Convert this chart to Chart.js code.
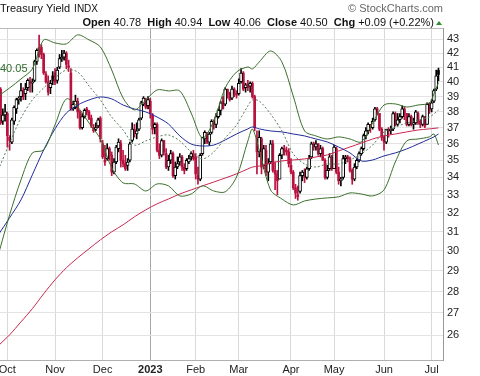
<!DOCTYPE html>
<html>
<head>
<meta charset="utf-8">
<script src="https://cdn.jsdelivr.net/npm/chart.js@4.4.0/dist/chart.umd.min.js"></script>
<style>
  html, body { margin: 0; padding: 0; background: #fff; }
  #wrap { width: 480px; height: 376px; }
</style>
</head>
<body>
<div id="wrap"><canvas id="yieldChart" width="480" height="376"></canvas></div>
<script>
// Eixo X: pregões (índice do dia), rótulos de mês
const monthIdx = [4, 25, 46, 67, 87, 106, 129, 148, 170, 191];
const monthLabels = ['Oct', 'Nov', 'Dec', '2023', 'Feb', 'Mar', 'Apr', 'May', 'Jun', 'Jul'];
const yTicks = [26, 27, 28, 29, 30, 31, 32, 33, 34, 35, 36, 37, 38, 39, 40, 41, 42, 43];

// Candles diários (27 set 2022 - 7 jul 2023)
const opens = [39.3,39.5,37.4,37.8,37.9,36.4,36.1,37.4,38.2,38.8,39.0,39.4,39.2,39.6,40.0,39.9,40.1,41.4,42.4,42.4,
  41.9,40.5,40.0,39.6,40.4,40.6,40.1,41.0,41.6,41.7,42.0,41.1,40.6,38.2,38.3,38.7,38.0,37.0,37.7,38.2,
  38.0,37.6,37.0,36.9,37.1,37.6,36.0,35.0,35.1,35.7,35.3,34.3,34.9,35.7,36.0,35.0,34.8,34.7,35.0,36.2,
  36.9,36.6,36.9,37.6,38.5,38.8,38.4,38.7,37.8,37.0,37.2,35.6,35.3,36.2,35.4,34.6,35.0,35.4,34.1,34.6,
  34.9,35.2,34.6,34.5,34.9,35.2,35.4,35.2,34.1,33.9,35.4,36.3,36.6,36.1,36.7,37.4,37.2,37.7,38.1,38.7,
  38.5,39.5,39.2,38.9,39.5,39.2,39.2,40.0,40.6,39.6,39.8,39.7,39.9,39.0,36.3,35.5,36.3,34.7,35.6,34.3,
  34.9,36.0,34.4,34.2,33.9,35.3,35.7,35.6,35.5,34.7,34.3,33.4,33.0,33.2,34.1,34.3,34.0,34.5,35.2,36.0,
  35.8,36.0,35.4,35.7,35.0,34.0,34.5,35.2,34.5,35.7,34.3,33.8,34.0,35.1,35.2,35.1,34.4,33.9,34.6,35.0,
  35.4,35.7,36.5,36.8,37.2,37.0,37.5,38.2,37.9,36.9,36.4,36.1,36.9,36.8,36.9,37.9,37.2,37.5,37.7,38.2,
  37.9,37.2,37.7,37.2,37.3,37.9,37.4,37.2,37.7,37.2,38.5,38.2,38.7,39.5,40.78];
const highs = [39.9,39.6,38.2,38.5,38.0,36.5,37.6,38.4,38.9,39.0,39.9,39.6,39.9,40.2,40.3,40.2,41.5,42.3,43.3,42.6,
  42.0,40.7,40.4,40.1,40.7,40.9,41.0,41.9,42.2,42.2,42.1,41.5,40.9,38.7,39.1,38.9,38.1,37.9,38.2,38.3,
  38.1,37.8,37.2,37.3,37.6,37.7,36.2,35.9,36.0,35.8,35.5,35.1,35.9,36.3,36.2,35.6,35.3,35.1,36.1,37.3,
  37.2,37.3,37.6,38.7,39.0,38.9,39.0,38.9,37.9,37.3,37.3,36.0,36.3,36.2,35.7,35.3,35.6,35.5,34.9,35.2,
  35.4,35.3,34.8,35.1,35.3,35.5,35.6,35.4,34.6,35.4,36.4,36.8,36.7,36.7,37.5,37.5,37.9,38.2,38.7,39.0,
  39.6,39.5,39.3,39.7,39.6,39.4,40.2,40.9,40.7,39.9,40.1,40.0,40.0,39.1,36.8,36.8,36.4,35.9,35.9,35.1,
  36.2,36.2,34.9,34.4,35.4,35.8,35.9,35.8,35.7,35.1,34.4,33.6,33.5,34.3,34.4,34.5,34.6,35.3,36.1,36.1,
  36.2,36.0,35.9,35.8,35.1,34.7,35.4,35.3,35.9,35.8,34.6,34.0,35.3,35.3,35.3,35.2,34.5,34.8,35.1,35.5,
  35.8,36.6,37.0,37.3,37.2,37.6,38.3,38.3,37.9,37.0,36.5,36.9,37.0,37.1,38.0,38.0,37.9,37.9,38.4,38.3,
  37.9,37.9,37.8,37.6,38.1,38.0,37.5,37.8,37.7,38.6,38.6,38.8,39.5,40.8,40.94];
const lows = [38.9,37.2,37.2,37.4,35.8,35.6,36.0,37.2,37.9,38.5,38.7,38.8,38.8,39.4,39.3,39.3,40.0,41.2,41.7,41.6,
  40.5,39.9,39.1,39.2,39.8,39.8,39.9,40.9,41.4,41.5,40.9,40.7,38.1,38.1,38.2,37.6,36.9,36.9,37.6,37.8,
  37.5,37.0,36.7,36.8,37.0,36.1,35.1,34.7,35.0,35.0,34.1,34.2,34.8,35.5,34.6,34.6,34.4,34.4,34.9,36.1,
  36.4,36.3,36.8,37.5,38.4,38.2,38.2,37.6,36.6,36.6,35.5,35.1,35.2,35.3,34.5,34.4,34.8,34.0,33.9,34.5,
  34.7,34.4,34.2,34.4,34.8,35.0,35.0,33.9,33.6,33.8,35.3,36.0,36.0,35.9,36.6,36.9,37.0,37.6,37.8,38.2,
  38.4,38.9,38.7,38.8,39.0,38.9,39.1,39.9,39.4,39.3,39.4,39.3,38.9,36.8,34.2,35.2,34.2,34.5,34.1,33.8,
  34.8,34.3,33.3,33.0,33.9,35.1,35.3,35.3,34.6,34.2,33.3,32.8,32.7,33.1,33.8,33.7,33.9,34.4,35.1,35.6,
  35.6,35.3,35.2,35.0,33.9,33.9,34.4,34.4,34.5,34.2,33.6,33.5,33.9,34.8,34.9,34.3,33.6,33.8,34.5,34.9,
  35.3,35.6,36.3,36.6,36.7,36.9,37.4,37.8,36.8,36.2,35.6,36.0,36.4,36.6,36.8,37.1,37.1,37.3,37.6,37.5,
  37.1,37.1,37.1,36.9,37.2,37.2,37.0,37.1,37.0,37.2,37.9,38.0,38.6,39.4,40.06];
const closes = [39.6,37.3,37.8,38.0,36.5,36.2,37.5,38.3,38.8,38.9,39.4,39.0,39.5,40.1,39.9,40.0,41.4,42.2,42.1,41.9,
  40.6,40.0,39.3,39.9,40.1,40.0,40.8,41.6,41.7,42.0,41.2,41.0,38.2,38.5,38.7,38.0,37.0,37.7,38.1,38.0,
  37.6,37.1,36.8,37.0,37.5,36.3,35.2,34.9,35.7,35.3,34.3,34.9,35.8,36.1,35.0,34.8,34.5,34.9,36.0,36.9,
  36.7,36.8,37.5,38.6,38.9,38.3,38.8,37.9,36.9,37.2,35.6,35.3,36.2,35.5,34.6,35.0,35.4,34.1,34.6,34.8,
  35.2,34.6,34.4,35.0,35.1,35.4,35.1,34.2,33.9,35.3,36.4,36.7,36.1,36.6,37.4,37.2,37.7,38.1,38.6,38.2,
  39.5,39.2,38.8,39.5,39.2,39.1,39.9,40.6,39.5,39.8,39.6,39.9,39.0,37.0,35.5,36.4,34.6,35.7,34.3,34.8,
  36.0,34.4,34.2,33.8,35.3,35.7,35.6,35.5,34.8,34.3,33.4,33.1,32.9,34.1,34.3,34.0,34.5,35.1,36.0,35.8,
  36.0,35.4,35.7,35.0,34.0,34.4,35.2,34.5,35.8,34.3,33.8,33.9,35.1,35.2,35.1,34.4,33.9,34.6,35.0,35.4,
  35.7,36.5,36.8,37.2,37.0,37.4,38.2,38.0,36.9,36.4,36.1,36.9,36.8,36.9,37.9,37.2,37.5,37.7,38.2,37.9,
  37.2,37.7,37.2,37.3,38.0,37.4,37.2,37.7,37.1,38.5,38.1,38.6,39.4,40.41,40.50];

// Indicadores (amostras por índice de dia)
const lineIdx = [0,5,10,15,20,25,30,35,40,45,50,55,60,65,70,75,80,85,90,95,100,105,110,112,115,120,
  125,130,135,140,145,150,155,160,165,170,175,180,185,190,192,194];
const bbUpper = [39.04,39.58,40.19,40.88,42.95,42.73,42.66,43.32,42.95,42.44,40.81,38.91,38.13,38.78,39.45,
  39.38,39.38,37.93,36.35,37.42,39.58,40.67,41.02,40.88,41.37,42.15,41.37,39.04,36.79,36.48,36.29,36.42,
  36.29,36.11,37.29,38.45,38.52,38.32,38.45,38.58,39.17,39.94];
const bbLower = [29.80,31.90,33.85,35.44,35.62,37.17,38.85,38.32,37.29,36.29,34.55,33.68,33.62,33.22,33.62,
  33.51,32.94,33.05,33.51,33.22,33.17,34.02,36.17,36.91,35.62,33.28,32.77,32.44,32.66,32.77,32.83,32.89,
  33.11,33.05,32.94,33.28,34.90,36.17,36.29,36.42,36.60,35.92];
const sma20 = [34.43,36.04,37.61,38.78,39.58,40.26,40.81,40.67,39.71,38.78,37.67,36.85,35.92,36.17,36.42,
  36.54,36.17,35.50,35.08,35.50,36.35,37.17,38.39,38.78,38.71,37.87,36.79,35.38,34.78,34.60,34.78,34.78,
  35.02,35.38,35.92,36.73,37.04,37.29,37.48,37.67,37.87,38.13];
const sma50 = [30.83,31.74,32.72,34.14,35.62,36.92,37.93,38.45,38.78,38.98,38.85,38.45,38.19,38.00,37.67,
  37.23,36.48,35.98,35.86,35.92,36.23,36.60,36.92,37.04,36.92,36.79,36.73,36.60,36.48,36.29,36.11,35.80,
  35.44,34.96,35.02,35.26,35.44,35.68,35.98,36.29,36.42,36.60];
const sma200 = [25.53,26.01,26.59,27.19,27.89,28.56,29.15,29.65,30.11,30.57,30.99,31.36,31.79,32.17,32.50,
  32.77,33.05,33.28,33.51,33.73,33.96,34.20,34.49,34.60,34.66,34.84,34.96,35.02,35.08,35.20,35.32,35.56,
  35.80,36.04,36.29,36.48,36.60,36.73,36.85,36.92,36.95,36.98];

const FONT = '"Liberation Sans", Arial, sans-serif';
const RED = '#b8123f';

function candleColor(i) {
  return i > 0 && closes[i] < closes[i - 1] ? RED : '#000';
}
function isHollow(i) {
  return closes[i] > opens[i];
}
function linePoints(vals) {
  return lineIdx.map((d, k) => ({ x: d, y: vals[k] }));
}

// Cabeçalho, rótulo 40.05 e borda superior
const headerPlugin = {
  id: 'header',
  afterDraw(chart) {
    const ctx = chart.ctx;
    const area = chart.chartArea;
    ctx.save();
    ctx.textBaseline = 'alphabetic';
    ctx.fillStyle = '#111';
    ctx.font = '11px ' + FONT;
    ctx.fillText('Treasury Yield', 0, 12);
    let w = ctx.measureText('Treasury Yield').width;
    ctx.font = '10px ' + FONT;
    ctx.fillText('INDX', w + 4, 12);

    ctx.fillStyle = '#666';
    ctx.font = '11px ' + FONT;
    ctx.textAlign = 'right';
    ctx.fillText('\u00A9 StockCharts.com', area.right, 12);
    ctx.textAlign = 'left';

    const parts = [['Open', ' 40.78  '], ['High', ' 40.94  '], ['Low', ' 40.06  '],
                   ['Close', ' 40.50  '], ['Chg', ' +0.09 (+0.22%)']];
    let total = 0;
    parts.forEach(p => {
      ctx.font = 'bold 11px ' + FONT; total += ctx.measureText(p[0]).width;
      ctx.font = '11px ' + FONT; total += ctx.measureText(p[1]).width;
    });
    let x = area.right - 9 - total;
    ctx.fillStyle = '#111';
    parts.forEach(p => {
      ctx.font = 'bold 11px ' + FONT; ctx.fillText(p[0], x, 26); x += ctx.measureText(p[0]).width;
      ctx.font = '11px ' + FONT; ctx.fillText(p[1], x, 26); x += ctx.measureText(p[1]).width;
    });
    ctx.fillStyle = '#2e8b2e';
    ctx.beginPath();
    ctx.moveTo(x + 2, 25); ctx.lineTo(x + 8, 25); ctx.lineTo(x + 5, 21); ctx.closePath();
    ctx.fill();

    ctx.strokeStyle = '#bbb';
    ctx.lineWidth = 1;
    ctx.beginPath();
    ctx.moveTo(0, area.top + 0.5); ctx.lineTo(area.right, area.top + 0.5);
    ctx.stroke();

    ctx.fillStyle = '#2d6a2d';
    ctx.font = '11px ' + FONT;
    ctx.fillText('40.05', 0, 72);
    ctx.restore();
  }
};

function initChart() {
  const wickData = highs.map((h, i) => ({ x: i, y: [lows[i], h] }));
  // corpos ocos (alta) e cheios (baixa) separados, larguras diferentes
  const hollowData = [], filledData = [];
  opens.forEach((o, i) => {
    const pt = { x: i, y: [Math.min(o, closes[i]), Math.max(o, closes[i])] };
    if (isHollow(i)) hollowData.push(pt); else filledData.push(pt);
  });
  const colorAt = ctx => candleColor(ctx.raw ? ctx.raw.x : 0);

  new Chart(document.getElementById('yieldChart'), {
    type: 'bar',
    data: {
      datasets: [
        { type: 'line', label: 'BB upper', data: linePoints(bbUpper), borderColor: '#3b6f2c', borderWidth: 1, pointRadius: 0, tension: 0.3, order: 0 },
        { type: 'line', label: 'BB lower', data: linePoints(bbLower), borderColor: '#3b6f2c', borderWidth: 1, pointRadius: 0, tension: 0.3, order: 0 },
        { type: 'line', label: 'SMA 20', data: linePoints(sma20), borderColor: '#5a7a5a', borderWidth: 1, borderDash: [2, 2], pointRadius: 0, tension: 0.3, order: 0 },
        { type: 'line', label: 'SMA 50', data: linePoints(sma50), borderColor: '#1f2b97', borderWidth: 1, pointRadius: 0, tension: 0.3, order: 0 },
        { type: 'line', label: 'SMA 200', data: linePoints(sma200), borderColor: '#c8264f', borderWidth: 1, pointRadius: 0, tension: 0.3, order: 0 },
        {
          label: 'Hollow', data: hollowData, grouped: false, barThickness: 3, minBarLength: 1, borderSkipped: false,
          backgroundColor: '#fff', borderColor: colorAt, borderWidth: 1, order: 1
        },
        {
          label: 'Filled', data: filledData, grouped: false, barThickness: 2, minBarLength: 1, borderSkipped: false,
          backgroundColor: colorAt, order: 1
        },
        {
          label: 'Wick', data: wickData, grouped: false, barThickness: 1, borderSkipped: false,
          backgroundColor: colorAt, order: 2
        }
      ]
    },
    options: {
      responsive: false,
      animation: false,
      devicePixelRatio: 1,
      layout: { padding: { top: 28, left: 0, right: 0, bottom: 0 } },
      plugins: { legend: { display: false }, tooltip: { enabled: false } },
      scales: {
        x: {
          type: 'linear', min: 0.76, max: 196, offset: false,
          afterBuildTicks: s => { s.ticks = monthIdx.map(v => ({ value: v })); },
          afterFit: s => { s.height = 16; s.paddingLeft = 0; s.paddingRight = 0; },
          grid: { offset: false, color: ctx => ctx.index === 3 ? '#a8a8a8' : '#d9d9d9', drawTicks: false },
          border: { color: '#b0b0b0' },
          ticks: {
            autoSkip: false, maxRotation: 0, padding: 3, color: '#222',
            font: ctx => ({ family: FONT, size: 11, weight: ctx.index === 3 ? 'bold' : 'normal' }),
            callback: v => monthLabels[monthIdx.indexOf(v)]
          }
        },
        y: {
          type: 'logarithmic', position: 'right', min: 24.92, max: 43.83,
          afterBuildTicks: s => { s.ticks = yTicks.map(v => ({ value: v })); },
          afterFit: s => { s.width = 37; s.paddingTop = 0; s.paddingBottom = 0; },
          grid: { color: '#e3e3e3', drawTicks: false },
          border: { color: '#999' },
          ticks: { autoSkip: false, padding: 4, color: '#222', font: { family: FONT, size: 11 }, callback: v => String(v) }
        }
      }
    },
    plugins: [headerPlugin]
  });
}

document.addEventListener('DOMContentLoaded', initChart);
</script>
</body>
</html>
